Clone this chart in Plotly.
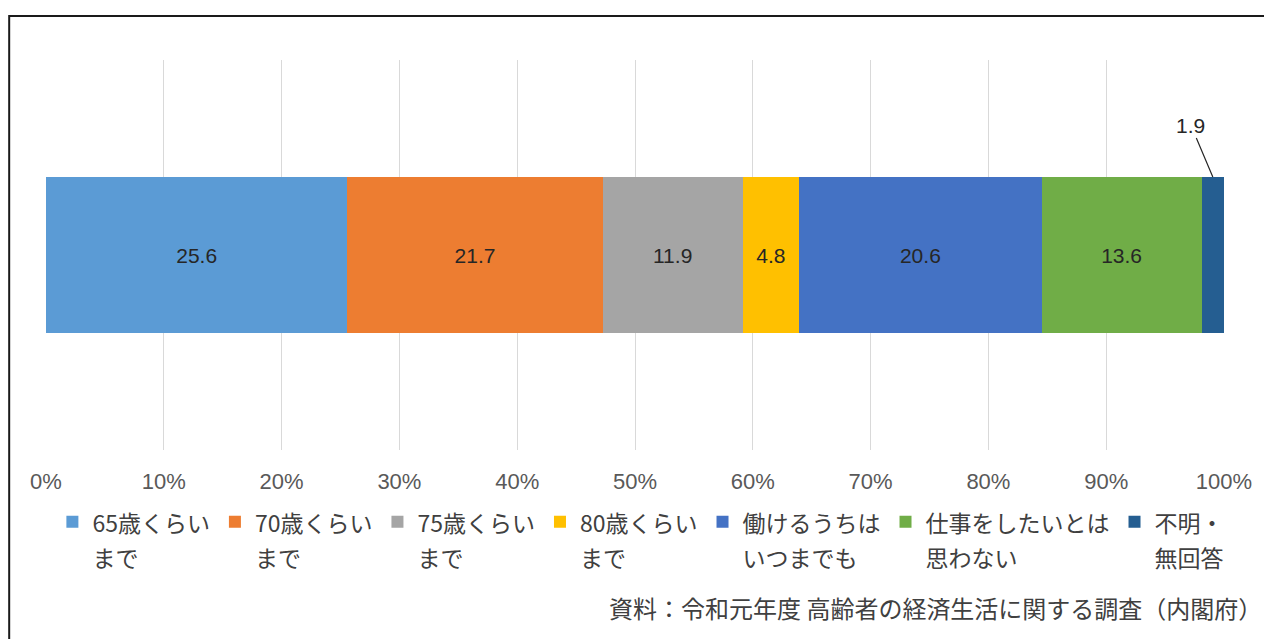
import plotly.graph_objects as go

categories = ["65歳くらい<br>まで", "70歳くらい<br>まで", "75歳くらい<br>まで", "80歳くらい<br>まで",
              "働けるうちは<br>いつまでも", "仕事をしたいとは<br>思わない", "不明・<br>無回答"]
values = [25.6, 21.7, 11.9, 4.8, 20.6, 13.6, 1.9]
colors = ["#5B9BD5", "#ED7D31", "#A5A5A5", "#FFC000", "#4472C4", "#70AD47", "#255E91"]
tick_vals = [0, 10, 20, 30, 40, 50, 60, 70, 80, 90, 100]
tick_text = [f"{v}%" for v in tick_vals]
source_text = "資料：令和元年度 高齢者の経済生活に関する調査（内閣府）"

JP = "Noto Sans CJK JP, Noto Sans, sans-serif"
NUM = "Liberation Sans, Arial, sans-serif"

def legend_label(s):
    return "<br>".join(f"<span style='font-size:23px'>{part}</span>" for part in s.split("<br>"))

fig = go.Figure()
for i, (name, v, c) in enumerate(zip(categories, values, colors)):
    show_text = i < len(values) - 1
    fig.add_trace(go.Bar(
        y=[0], x=[v], orientation="h", name=legend_label(name),
        marker=dict(color=c, line=dict(width=0)),
        text=[f"{v:.1f}"] if show_text else None,
        textposition="inside" if show_text else "none",
        insidetextanchor="middle",
        textfont=dict(family=NUM, size=21, color="#262626"),
        constraintext="none",
        hoverinfo="x+name",
    ))

total = sum(values)
last_mid = (sum(values[:-1]) + values[-1] / 2) / total * 100

fig.add_annotation(
    x=last_mid, y=0.2, xref="x", yref="y",
    text=f"{values[-1]:.1f}", showarrow=True, arrowhead=0, arrowwidth=1.2,
    arrowcolor="#262626", ax=-22, ay=-52, standoff=0,
    font=dict(family=NUM, size=21, color="#262626"),
)

fig.add_annotation(
    x=1.0337, y=-0.405, xref="paper", yref="paper", xanchor="right", yanchor="middle",
    text=source_text, showarrow=False,
    font=dict(family=JP, size=24, color="#404040"),
)

fig.add_shape(type="rect", xref="paper", yref="paper",
              x0=-0.03125, x1=1.04, y0=-0.52, y1=1.1128,
              line=dict(color="#1a1a1a", width=2), fillcolor="rgba(0,0,0,0)", layer="above")

fig.update_layout(
    width=1264, height=639,
    margin=dict(l=46, r=29, t=60, b=189),
    paper_bgcolor="white", plot_bgcolor="white",
    barmode="stack", barnorm="percent", bargap=0.6,
    showlegend=True,
    legend=dict(orientation="h", x=0.505, xanchor="center", y=-0.122, yanchor="top",
                font=dict(family=JP, size=27, color="#404040"), valign="top",
                traceorder="normal", itemwidth=30, bgcolor="rgba(0,0,0,0)"),
    xaxis=dict(range=[0, 100], tickvals=tick_vals, ticktext=tick_text,
               showgrid=True, gridcolor="#D9D9D9", gridwidth=1,
               zeroline=False, showline=False, ticks="",
               ticklabelstandoff=16,
               tickfont=dict(family=NUM, size=22, color="#595959")),
    yaxis=dict(range=[-0.5, 0.5], visible=False, showgrid=False, zeroline=False),
    font=dict(family=JP),
)

fig.write_html("out.html", config={"displayModeBar": False},
               post_script="document.body.style.margin='0';document.body.style.overflow='hidden';")
